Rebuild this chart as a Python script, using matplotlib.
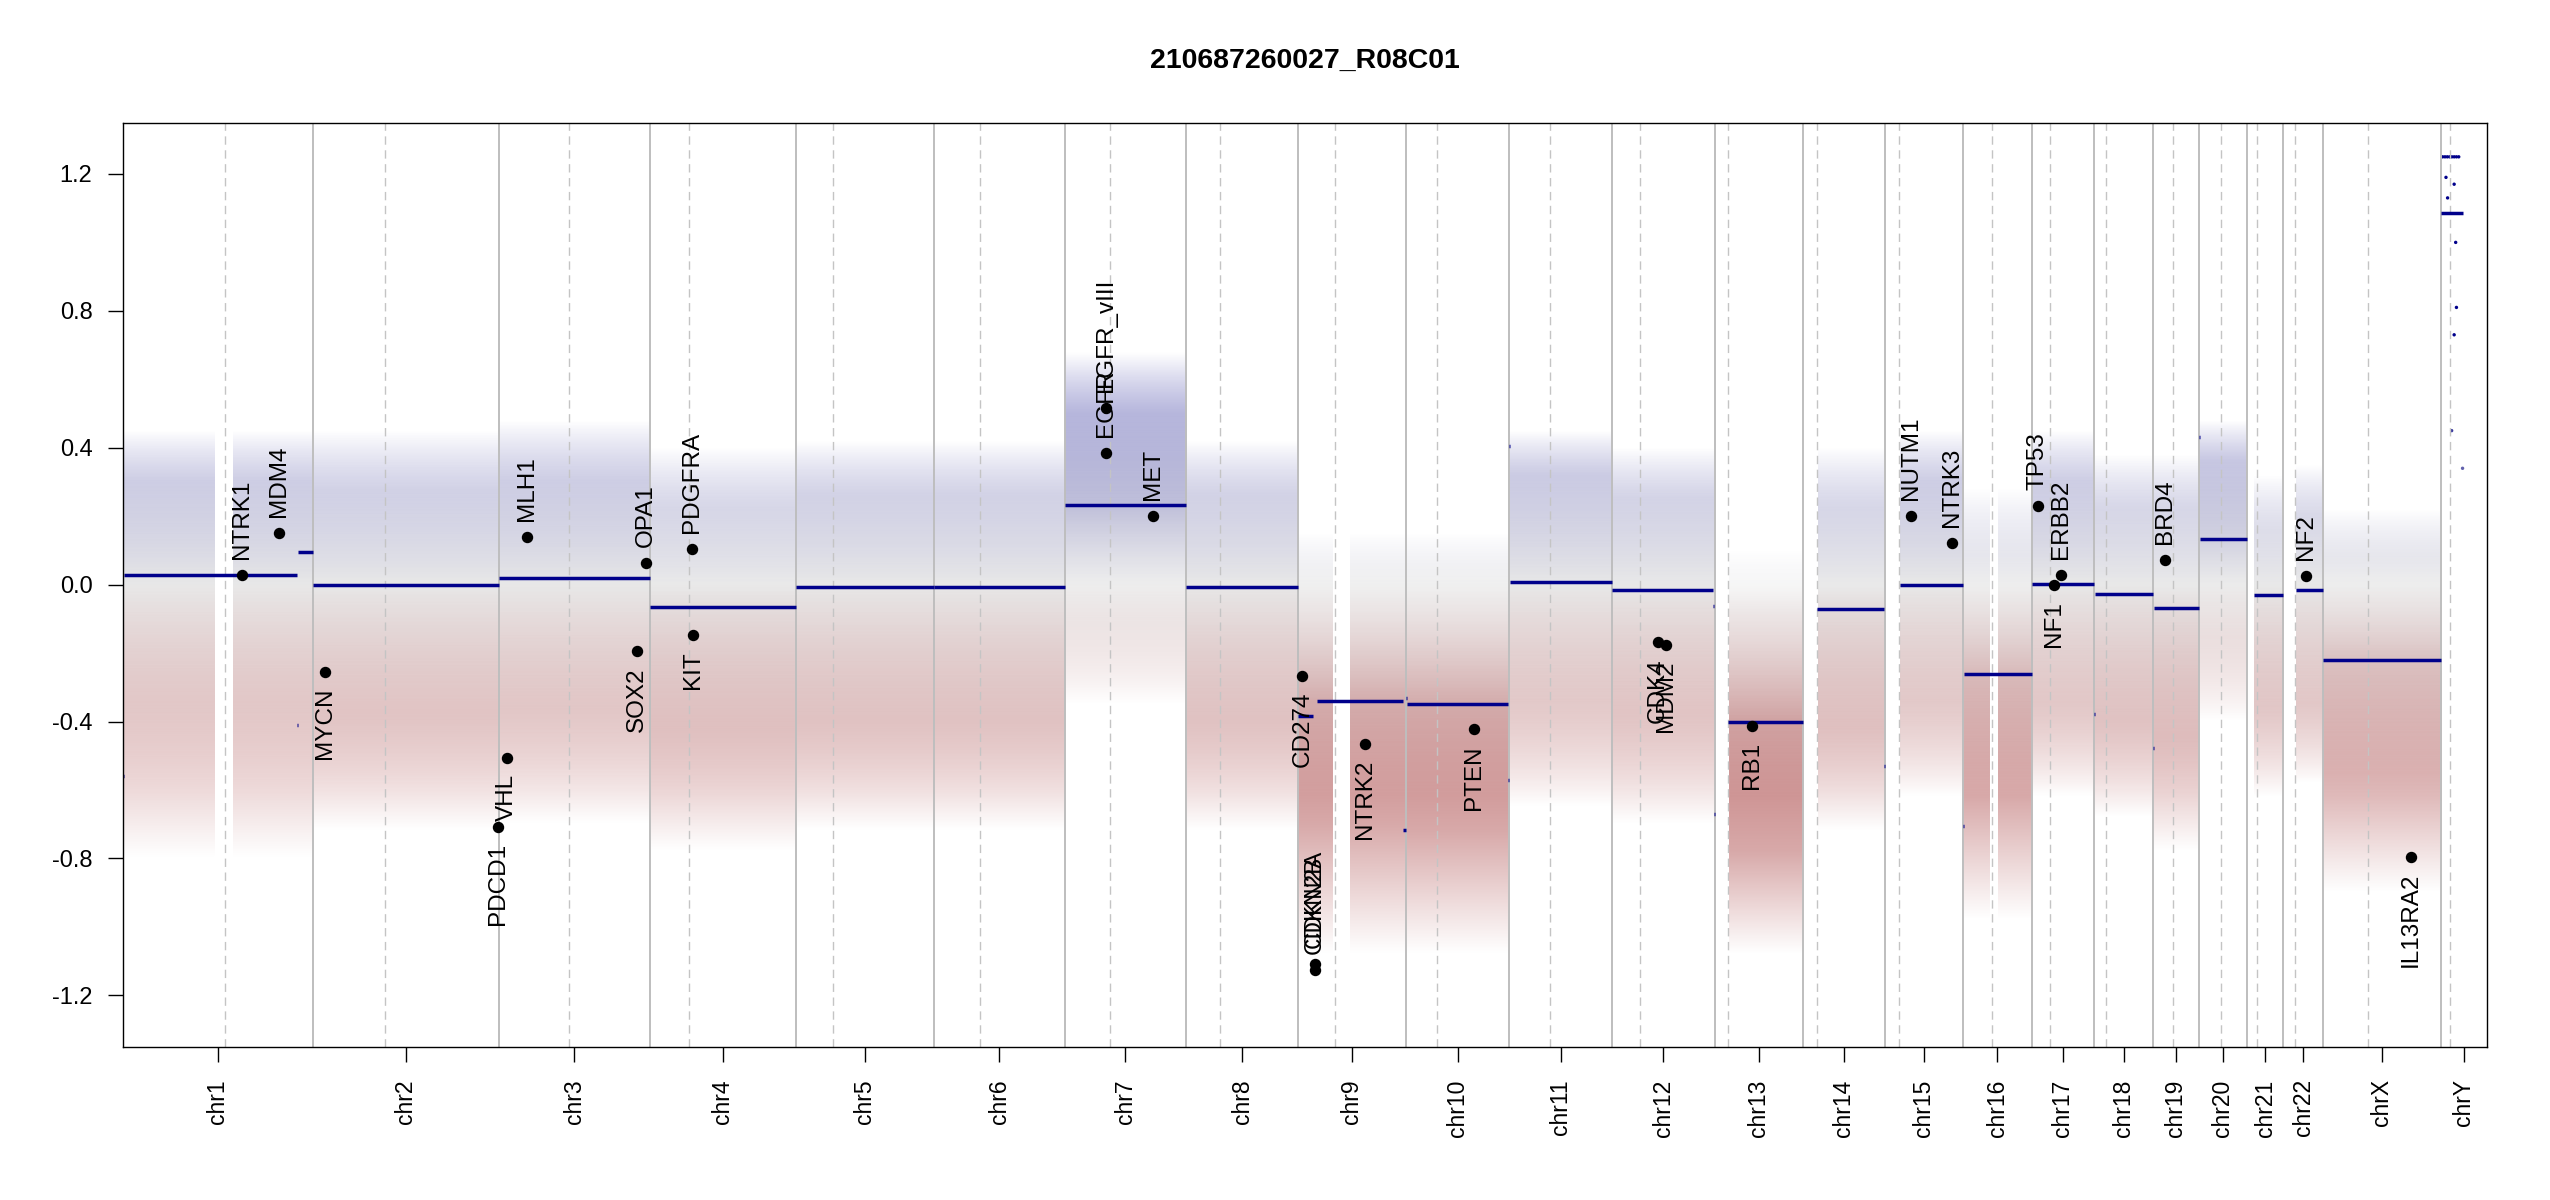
import numpy as np
import matplotlib
matplotlib.use('Agg')
import matplotlib.pyplot as plt
from matplotlib.colors import LinearSegmentedColormap, Normalize

plt.rcParams['font.family'] = ['Liberation Sans', 'DejaVu Sans']
plt.rcParams['axes.unicode_minus'] = False
plt.rcParams['lines.scale_dashes'] = False

sample_name = '210687260027_R08C01'

# hg19 chromosome sizes (Mb) and centromere marks (Mb)
chroms = ['chr1', 'chr2', 'chr3', 'chr4', 'chr5', 'chr6', 'chr7', 'chr8',
          'chr9', 'chr10', 'chr11', 'chr12', 'chr13', 'chr14', 'chr15', 'chr16',
          'chr17', 'chr18', 'chr19', 'chr20', 'chr21', 'chr22', 'chrX', 'chrY']
chrom_len = [249.25, 243.20, 198.02, 191.15, 180.92, 171.12, 159.14, 146.36,
             141.21, 135.53, 135.01, 133.85, 115.17, 107.35, 102.53, 90.35,
             81.20, 78.08, 59.13, 63.03, 48.13, 51.30, 155.27, 59.37]
centromere = [133.8, 94.3, 92.3, 51.8, 48.0, 59.8, 59.2, 43.6,
              48.7, 40.6, 53.0, 36.3, 17.3, 18.3, 18.4, 38.3,
              24.5, 15.9, 26.1, 29.7, 13.5, 15.4, 60.0, 11.1]

# segments: chromosome, start (Mb), end (Mb), mean log2 ratio
seg_chrom = ['chr1', 'chr1', 'chr1', 'chr1', 'chr2', 'chr3', 'chr4', 'chr5', 'chr6',
             'chr7', 'chr7', 'chr8', 'chr9', 'chr9', 'chr9', 'chr9',
             'chr10', 'chr10', 'chr10', 'chr11', 'chr11', 'chr12', 'chr12', 'chr12',
             'chr13', 'chr14', 'chr14', 'chr15', 'chr16', 'chr16', 'chr17',
             'chr18', 'chr18', 'chr19', 'chr19', 'chr20', 'chr20', 'chr21', 'chr21',
             'chr22', 'chrX', 'chrY']
seg_start = [0.0, 2.0, 228.0, 229.0, 0.0, 0.0, 0.0, 0.0, 0.0,
             0.0, 1.0, 0.0, 0.0, 21.0, 25.3, 138.0,
             0.0, 1.0, 134.0, 0.0, 1.5, 0.0, 132.4, 133.1,
             18.2, 19.1, 106.5, 20.0, 0.0, 1.0, 0.0,
             0.0, 1.0, 0.0, 0.6, 0.0, 1.5, 9.4, 10.2,
             16.2, 0.0, 0.0]
seg_end = [1.5, 228.0, 229.0, 249.25, 243.2, 198.0, 191.1, 180.9, 171.1,
           1.0, 159.1, 146.4, 19.6, 24.0, 138.0, 141.2,
           1.0, 134.0, 135.5, 1.5, 135.0, 132.4, 133.1, 133.85,
           115.2, 106.5, 107.35, 102.5, 1.0, 90.35, 81.2,
           1.0, 78.1, 0.6, 59.1, 1.5, 63.0, 10.2, 48.1,
           51.3, 155.3, 28.0]
seg_value = [-0.56, 0.028, -0.41, 0.094, -0.001, 0.018, -0.064, -0.006, -0.006,
             -0.145, 0.232, -0.006, -0.383, -1.11, -0.339, -0.716,
             -0.33, -0.348, -0.571, 0.405, 0.008, -0.017, -0.061, -0.67,
             -0.402, -0.071, -0.531, 0.000, -0.704, -0.261, 0.003,
             -0.377, -0.026, -0.477, -0.068, 0.43, 0.134, -0.38, -0.029,
             -0.015, -0.220, 1.085]

# bin cloud per chromosome:
# centre, outer low, dense low, dense high, outer high
cloud_chrom = ['chr1', 'chr2', 'chr3', 'chr4', 'chr5', 'chr6', 'chr7', 'chr8',
               'chr9', 'chr10', 'chr11', 'chr12', 'chr13', 'chr14', 'chr15', 'chr16',
               'chr17', 'chr18', 'chr19', 'chr20', 'chr21', 'chr22', 'chrX']
cloud_from = [0, 0, 0, 0, 0, 0, 0, 0, 0, 0, 0, 0, 18.2, 19.1, 20.0, 0,
              0, 0, 0, 0, 9.4, 16.2, 0]
cloud_mid = [0.03, 0.00, 0.02, -0.06, -0.01, -0.01, 0.23, -0.01,
             -0.34, -0.35, 0.01, -0.02, -0.40, -0.07, 0.00, -0.26,
             0.00, -0.03, -0.07, 0.13, -0.03, -0.02, -0.22]
cloud_lo_out = [-0.80, -0.72, -0.70, -0.78, -0.72, -0.72, -0.35, -0.72,
                -1.08, -1.08, -0.65, -0.70, -1.08, -0.72, -0.62, -0.98,
                -0.62, -0.68, -0.78, -0.40, -0.62, -0.58, -0.90]
cloud_lo_in = [-0.35, -0.38, -0.36, -0.42, -0.40, -0.40, -0.10, -0.40,
               -0.70, -0.72, -0.34, -0.38, -0.78, -0.42, -0.34, -0.62,
               -0.35, -0.40, -0.45, -0.15, -0.36, -0.35, -0.55]
cloud_hi_in = [0.30, 0.27, 0.30, 0.22, 0.26, 0.26, 0.50, 0.26,
               0.00, 0.00, 0.32, 0.25, -0.08, 0.22, 0.30, 0.08,
               0.30, 0.22, 0.22, 0.36, 0.16, 0.20, 0.08]
cloud_hi_out = [0.45, 0.45, 0.48, 0.40, 0.42, 0.42, 0.68, 0.42,
                0.15, 0.15, 0.45, 0.40, 0.10, 0.40, 0.45, 0.28,
                0.45, 0.38, 0.38, 0.48, 0.32, 0.35, 0.22]
# empty stretches without probes (chromosome, start, end in Mb)
gap_chrom = ['chr1', 'chr9', 'chr16']
gap_start = [121.0, 45.0, 35.0]
gap_end = [144.0, 68.0, 46.0]

# the few chrY bins (Mb, ratio); 1.25 = clipped at the plot limit
chrY_pos = [2, 5, 8, 11, 14, 17, 20, 23, 6.3, 17.0, 8.4, 19.0, 20.0, 17.0, 13.7, 28.0]
chrY_val = [1.25, 1.25, 1.25, 1.25, 1.25, 1.25, 1.25, 1.25,
            1.19, 1.17, 1.13, 1.00, 0.81, 0.73, 0.45, 0.34]

# detail genes
gene_name = ['NTRK1', 'MDM4', 'MYCN', 'PDCD1', 'VHL', 'MLH1', 'SOX2', 'OPA1',
             'PDGFRA', 'KIT', 'EGFR', 'EGFR_vIII', 'MET', 'CD274', 'CDKN2A',
             'CDKN2B', 'NTRK2', 'PTEN', 'CDK4', 'MDM2', 'RB1', 'NUTM1', 'NTRK3',
             'TP53', 'NF1', 'ERBB2', 'BRD4', 'NF2', 'IL13RA2']
gene_chrom = ['chr1', 'chr1', 'chr2', 'chr2', 'chr3', 'chr3', 'chr3', 'chr3',
              'chr4', 'chr4', 'chr7', 'chr7', 'chr7', 'chr9', 'chr9',
              'chr9', 'chr9', 'chr10', 'chr12', 'chr12', 'chr13', 'chr15', 'chr15',
              'chr17', 'chr17', 'chr17', 'chr19', 'chr22', 'chrX']
gene_pos = [156.2, 204.7, 16.0, 241.9, 10.2, 37.0, 181.5, 193.2,
            55.1, 55.9, 54.7, 54.7, 115.3, 5.6, 22.2,
            22.2, 87.6, 89.5, 59.2, 70.1, 49.1, 34.2, 88.4,
            8.0, 29.3, 38.1, 15.3, 29.5, 115.4]
gene_value = [0.028, 0.150, -0.254, -0.707, -0.506, 0.139, -0.195, 0.064,
              0.105, -0.147, 0.385, 0.516, 0.202, -0.266, -1.109,
              -1.126, -0.465, -0.422, -0.168, -0.175, -0.413, 0.200, 0.122,
              0.229, -0.002, 0.028, 0.073, 0.025, -0.796]

ylim = (-1.25, 1.25)
ypad = 1.35

starts = dict(zip(chroms, np.concatenate([[0.0], np.cumsum(chrom_len)[:-1]])))
lens = dict(zip(chroms, chrom_len))
total = float(np.sum(chrom_len))

cmap = LinearSegmentedColormap.from_list(
    'cn', [(0.0, 'darkred'), (0.25, 'darkred'), (0.5, 'lightgrey'),
           (0.75, 'darkblue'), (1.0, 'darkblue')])
norm = Normalize(vmin=ylim[0], vmax=ylim[1])

fig = plt.figure(figsize=(25.5, 12), dpi=100)
ax = fig.add_axes([0.04812, 0.12775, 0.92698, 0.77008])

# bin cloud drawn as a shaded density band per chromosome
nx, ny = 2364, 920
xg = (np.arange(nx) + 0.5) / nx * total
yg = np.linspace(-ypad, ypad, ny)
rgba = np.zeros((ny, nx, 4))
rgba[:, :, :3] = cmap(norm(np.clip(yg, *ylim)))[:, None, :3]
for i, c in enumerate(cloud_chrom):
    s = starts[c]
    cols = (xg >= s + cloud_from[i]) & (xg < s + lens[c])
    for g, c2 in enumerate(gap_chrom):
        if c2 == c:
            cols &= ~((xg >= s + gap_start[g]) & (xg < s + gap_end[g]))
    knots = [cloud_lo_out[i], cloud_lo_in[i], cloud_mid[i], cloud_hi_in[i], cloud_hi_out[i]]
    prof = np.interp(yg, knots, [0.0, 0.34, 0.52, 0.34, 0.0], left=0, right=0)
    rgba[:, cols, 3] = prof[:, None]
ax.imshow(rgba, extent=[0, total, -ypad, ypad], origin='lower', aspect='auto',
          interpolation='bilinear', zorder=1)

# chrY bins
yx = [starts['chrY'] + p for p in chrY_pos]
ax.scatter(yx, chrY_val, s=6, c=cmap(norm(np.array(chrY_val))), linewidths=0, zorder=2)

# chromosome borders and centromeres
for i, c in enumerate(chroms):
    if i > 0:
        ax.axvline(starts[c], color='#bebebe', lw=1.4, zorder=3)
    ax.axvline(starts[c] + centromere[i], color='#c4c4c4', lw=1.0,
               dashes=(6, 4), zorder=3)

# segments
for c, a, b, v in zip(seg_chrom, seg_start, seg_end, seg_value):
    ax.plot([starts[c] + a, starts[c] + b], [v, v], color='darkblue', lw=2.5,
            solid_capstyle='butt', zorder=4)

# detail genes
gx = [starts[c] + p for c, p in zip(gene_chrom, gene_pos)]
ax.plot(gx, gene_value, 'o', color='black', ms=7.2, zorder=6)
for name, x, v in zip(gene_name, gx, gene_value):
    above = (v > 0 and v < ylim[1] - 0.3) or v < ylim[0] + 0.3
    ax.annotate(name, (x, v), xytext=(0, 11.5 if above else -11.5),
                textcoords='offset points', rotation=90, ha='center',
                va='bottom' if above else 'top', fontsize=17.5, zorder=7)

ax.set_xlim(0, total)
ax.set_ylim(-ypad, ypad)
ax.set_xticks([starts[c] + lens[c] / 2 for c in chroms])
ax.set_xticklabels(chroms, rotation=90, fontsize=16.5)
yt = np.arange(-1.2, 1.21, 0.4)
ax.set_yticks(yt)
ax.set_yticklabels(['%.1f' % t for t in yt], fontsize=17)
ax.tick_params(axis='both', direction='out', length=10.8, width=1.0, colors='black')
ax.tick_params(axis='x', pad=12.7)
ax.tick_params(axis='y', pad=11)
for sp in ax.spines.values():
    sp.set_linewidth(1.0)
    sp.set_zorder(8)

fig.text(0.5116, 1 - 61 / 1200, sample_name, ha='center', va='center',
         fontsize=20.5, fontweight='bold')

fig.savefig('out.png', dpi=100)
